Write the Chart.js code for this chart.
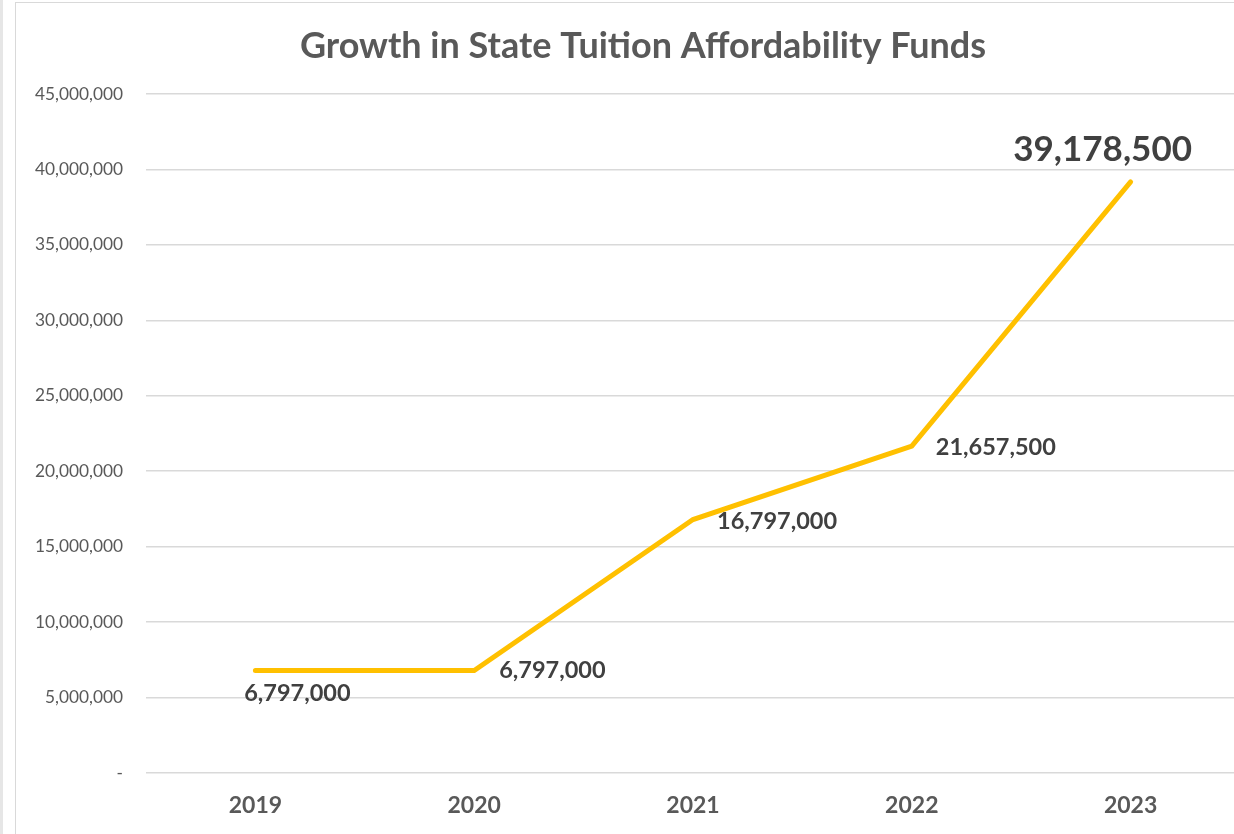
<!DOCTYPE html>
<html>
<head>
<meta charset="utf-8">
<script src="https://cdn.jsdelivr.net/npm/chart.js@4"></script>
<style>
  html, body { margin: 0; padding: 0; background: #fff; overflow: hidden; }
  #wrap {
    position: absolute; left: 15px; top: 2px;
    width: 1254px; height: 840px;
    border: 1px solid #d9d9d9; background: #fff;
  }
  #edge { position: absolute; left: 0; top: 0; width: 3px; height: 834px; background: #e6e6e6; }
</style>
</head>
<body>
<div id="edge"></div>
<div id="wrap"><canvas id="fundsChart" width="1254" height="831"></canvas></div>
<script>
// chart values
const years = ["2019", "2020", "2021", "2022", "2023"];
const funds = [6797000, 6797000, 16797000, 21657500, 39178500];
const yTicks = [0, 5000000, 10000000, 15000000, 20000000, 25000000, 30000000, 35000000, 40000000, 45000000];
const chartTitle = "Growth in State Tuition Affordability Funds";

const FONT = "Lato, 'Open Sans', sans-serif";

document.addEventListener("DOMContentLoaded", function () {
  // title centred on the whole chart box (the box runs past the window)
  const titlePlugin = {
    id: "boxTitle",
    afterDraw: function (chart) {
      const ctx = chart.ctx;
      ctx.save();
      ctx.fillStyle = "#595959";
      ctx.font = "bold 36px " + FONT;
      ctx.textAlign = "center";
      ctx.textBaseline = "middle";
      ctx.fillText(chartTitle, chart.width / 2, 43);
      ctx.restore();
    },
  };

  // data labels next to each point
  const labelPlugin = {
    id: "pointLabels",
    afterDatasetsDraw: function (chart) {
      const ctx = chart.ctx;
      const pts = chart.getDatasetMeta(0).data;
      const spots = [
        { dx: 42, dy: 23, align: "center", size: 23.5 },
        { dx: 25, dy: 0, align: "left", size: 23.5 },
        { dx: 24, dy: 2, align: "left", size: 23.5 },
        { dx: 24, dy: 1, align: "left", size: 23.5 },
        { dx: -28, dy: -32, align: "center", size: 35 },
      ];
      ctx.save();
      ctx.fillStyle = "#404040";
      ctx.textBaseline = "middle";
      pts.forEach(function (p, i) {
        const s = spots[i];
        ctx.font = "bold " + s.size + "px " + FONT;
        ctx.textAlign = s.align;
        ctx.fillText(funds[i].toLocaleString("en-US"), p.x + s.dx, p.y + s.dy);
      });
      ctx.restore();
    },
  };

  const el = document.getElementById("fundsChart");
  new Chart(el, {
    type: "line",
    data: {
      labels: years,
      datasets: [
        {
          label: "Funds",
          data: funds,
          borderColor: "#FFC000",
          borderWidth: 5,
          borderCapStyle: "round",
          borderJoinStyle: "miter",
          pointRadius: 0,
          tension: 0,
        },
      ],
    },
    options: {
      responsive: false,
      animation: false,
      layout: { padding: { left: 0, right: 30, top: 91, bottom: 0 } },
      plugins: {
        legend: { display: false },
        tooltip: { enabled: false },
        title: { display: false },
      },
      scales: {
        x: {
          offset: true,
          afterFit: function (scale) { scale.height = 61; },
          grid: { display: false, drawTicks: false },
          border: { display: false },
          ticks: {
            color: "#595959",
            padding: 19,
            font: { family: FONT, size: 23, weight: "bold" },
          },
        },
        y: {
          min: 0,
          max: 45000000,
          afterBuildTicks: function (scale) {
            scale.ticks = yTicks.map(function (v) { return { value: v }; });
          },
          afterFit: function (scale) { scale.width = 130; },
          grid: { color: "#d9d9d9", lineWidth: 1.5, drawTicks: false },
          border: { display: false },
          ticks: {
            color: "#595959",
            padding: 23,
            font: { family: FONT, size: 17.3 },
            callback: function (v) { return v === 0 ? "-" : v.toLocaleString("en-US"); },
          },
        },
      },
    },
    plugins: [labelPlugin, titlePlugin],
  });
});
</script>
</body>
</html>
